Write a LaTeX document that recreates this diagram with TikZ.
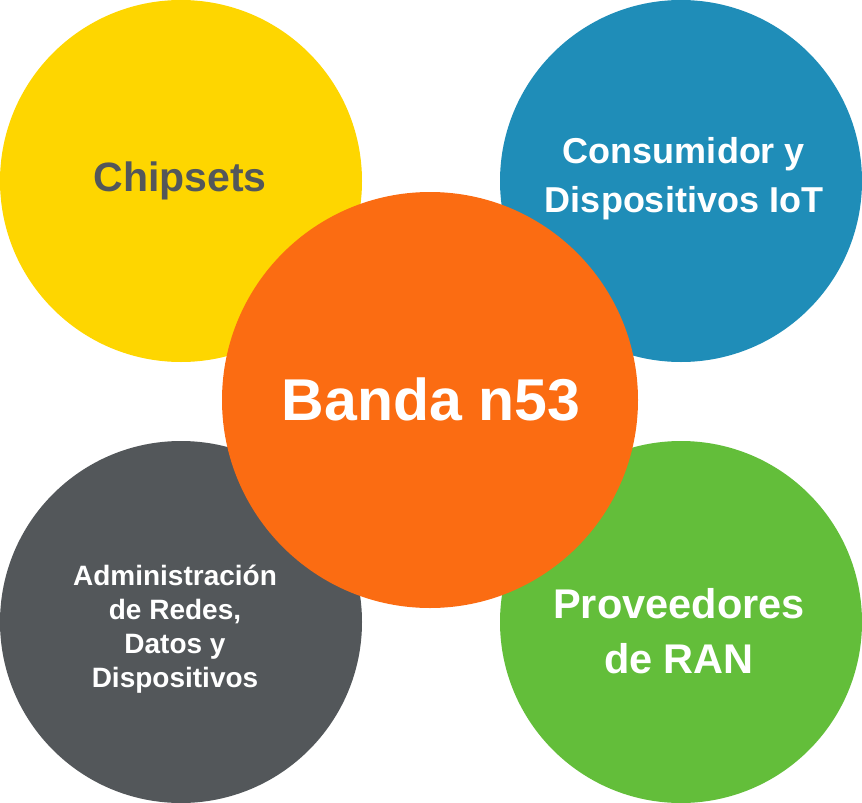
\documentclass[tikz,border=0pt]{standalone}
\usepackage{fontspec}
\setmainfont{Liberation Sans}
\definecolor{cyellow}{HTML}{FED600}
\definecolor{cblue}{HTML}{1F8DB8}
\definecolor{corange}{HTML}{FB6C12}
\definecolor{cgray}{HTML}{53575A}
\definecolor{cgreen}{HTML}{63BE3A}
\begin{document}
\begin{tikzpicture}[x=1pt,y=-1pt,
  bubble/.style={circle,inner sep=0pt,draw=none},
  lbl/.style={align=center,font=\bfseries,text=white}]
\useasboundingbox (0,0) rectangle (862,803);
\node[bubble,fill=cyellow,minimum size=362pt] (y) at (181,181) {};
\node[bubble,fill=cblue,minimum size=362pt] (b) at (681,181) {};
\node[bubble,fill=cgray,minimum size=362pt] (g) at (181,622) {};
\node[bubble,fill=cgreen,minimum size=362pt] (gr) at (681,622) {};
\node[bubble,fill=corange,minimum size=416pt] (o) at (430,400) {};
\node[lbl,text=cgray,font=\bfseries\fontsize{41}{44}\selectfont] (ty) at (180,181) {Chipsets};
\node[lbl,font=\bfseries\fontsize{36}{49}\selectfont] (tb) at (684,179) {Consumidor y\\Dispositivos IoT};
\node[lbl,font=\bfseries\fontsize{28}{34}\selectfont] (tg) at (175,629) {Administración\\de Redes,\\Datos y\\Dispositivos};
\node[lbl,font=\bfseries\fontsize{41.5}{55}\selectfont] (tgr) at (679,631) {Proveedores\\de RAN};
\node[lbl,font=\bfseries\fontsize{59}{62}\selectfont] (to) at (431,399) {Banda n53};
\end{tikzpicture}
\end{document}
